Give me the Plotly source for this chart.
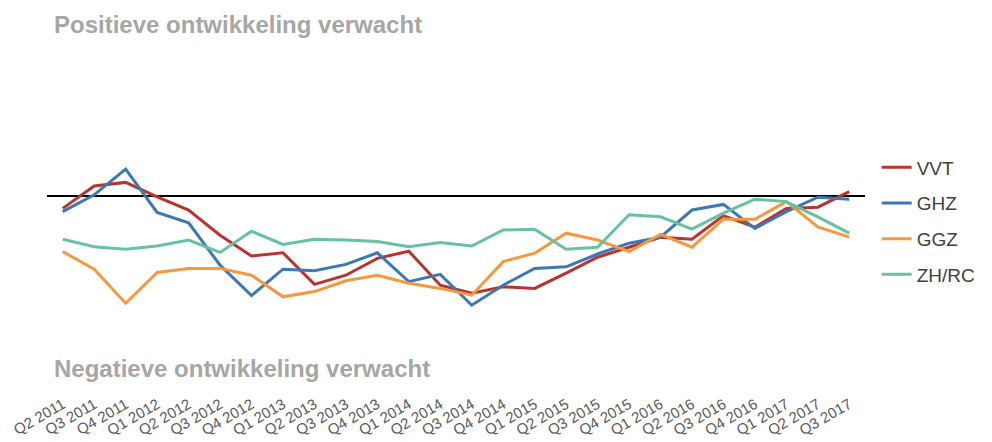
import plotly.graph_objs as go

quarters = [
    "Q2 2011", "Q3 2011", "Q4 2011", "Q1 2012", "Q2 2012", "Q3 2012", "Q4 2012",
    "Q1 2013", "Q2 2013", "Q3 2013", "Q4 2013", "Q1 2014", "Q2 2014", "Q3 2014",
    "Q4 2014", "Q1 2015", "Q2 2015", "Q3 2015", "Q4 2015", "Q1 2016", "Q2 2016",
    "Q3 2016", "Q4 2016", "Q1 2017", "Q2 2017", "Q3 2017",
]

vvt = [-3.1, 2.5, 3.4, -0.2, -3.5, -9.8, -15.0, -14.2, -22.1, -19.8, -15.6, -13.8, -22.3,
       -24.3, -22.7, -23.1, -19.3, -15.3, -12.8, -10.3, -10.8, -4.9, -7.8, -3.1, -2.8, 1.1]
ghz = [-3.9, 0.3, 6.7, -4.1, -6.7, -17.3, -24.9, -18.3, -18.7, -17.1, -14.2, -21.4, -19.6,
       -27.3, -22.3, -18.1, -17.7, -14.5, -11.8, -10.3, -3.5, -2.1, -8.1, -3.9, -0.3, -0.8]
ggz = [-13.9, -18.3, -26.8, -19.1, -18.1, -18.1, -19.8, -25.2, -23.9, -21.2, -19.8, -21.8, -23.1,
       -24.8, -16.4, -14.3, -9.3, -11.0, -13.9, -9.6, -12.8, -5.8, -5.8, -1.4, -7.7, -10.3]
zhrc = [-10.8, -12.7, -13.3, -12.5, -11.0, -14.1, -8.8, -12.1, -10.8, -11.0, -11.4, -12.7, -11.6,
        -12.5, -8.5, -8.3, -13.3, -12.8, -4.7, -5.2, -8.3, -4.3, -0.8, -1.4, -5.2, -9.3]

series = [
    ("VVT", vvt, "#b8342f"),
    ("GHZ", ghz, "#3b78b4"),
    ("GGZ", ggz, "#f6983e"),
    ("ZH/RC", zhrc, "#67c1a4"),
]

fig = go.Figure()
for name, values, color in series:
    fig.add_trace(go.Scatter(
        x=quarters,
        y=values,
        name=name,
        mode="lines",
        legendgroup=name,
        line=dict(color=color, width=3),
    ))

# page body has an 8px margin, so the figure is a bit smaller than the window
fig.update_layout(
    width=984,
    height=434,
    paper_bgcolor="white",
    plot_bgcolor="white",
    font=dict(family="Liberation Sans, Arial, sans-serif"),
    margin=dict(l=39, r=126, t=32, b=50),
    showlegend=True,
    legend=dict(
        x=1.013, xanchor="left",
        y=0.692, yanchor="top",
        font=dict(size=19, color="#404040"),
        tracegroupgap=8,
        traceorder="grouped",
    ),
    annotations=[
        dict(text="<b>Positieve ontwikkeling verwacht</b>", xref="paper", yref="paper",
             x=0.006, y=1.043, xanchor="left", yanchor="middle", showarrow=False,
             font=dict(size=24, color="#a6a6a6")),
        dict(text="<b>Negatieve ontwikkeling verwacht</b>", xref="paper", yref="paper",
             x=0.006, y=0.068, xanchor="left", yanchor="middle", showarrow=False,
             font=dict(size=24, color="#a6a6a6")),
    ],
)

fig.update_xaxes(
    range=[-0.5, 25.5],
    tickangle=-30,
    tickfont=dict(size=15, color="#595959"),
    showgrid=False,
    showline=False,
    ticks="",
    automargin=False,
)
fig.update_yaxes(
    range=[-49, 39],
    showticklabels=False,
    showgrid=False,
    zeroline=True,
    zerolinecolor="black",
    zerolinewidth=2,
    automargin=False,
)

fig.write_html("out.html")
